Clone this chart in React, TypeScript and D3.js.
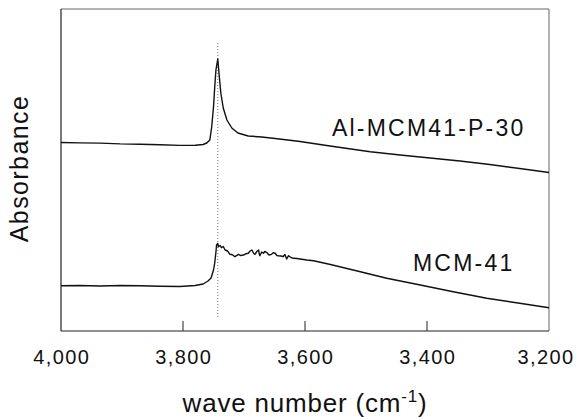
import React from "react";
import * as d3 from "d3";

// Wave numbers (cm-1) and absorbance (a.u.)
const alWave = [4000, 3969, 3936, 3903, 3870, 3838, 3805, 3780, 3767, 3761, 3756, 3753, 3750, 3748, 3746, 3743, 3741, 3738, 3734, 3728, 3720, 3710, 3693, 3671, 3649, 3608, 3559, 3493, 3444, 3395, 3346, 3297, 3248, 3200];
const alAbs = [1.885, 1.881, 1.879, 1.871, 1.868, 1.863, 1.856, 1.858, 1.865, 1.88, 1.91, 2.04, 2.24, 2.44, 2.61, 2.72, 2.58, 2.38, 2.23, 2.11, 2.03, 1.98, 1.95, 1.94, 1.925, 1.895, 1.85, 1.793, 1.76, 1.73, 1.70, 1.665, 1.625, 1.585];

const mcmWave = [4000, 3969, 3936, 3903, 3870, 3838, 3805, 3780, 3767, 3759, 3754, 3750, 3748, 3746, 3745, 3743, 3742, 3739, 3737, 3734, 3731, 3727, 3723, 3719, 3715, 3709, 3706, 3701, 3697, 3693, 3690, 3687, 3684, 3682, 3679, 3676, 3675, 3674, 3671, 3668, 3666, 3663, 3659, 3655, 3652, 3649, 3646, 3644, 3639, 3636, 3633, 3630, 3627, 3623, 3619, 3613, 3608, 3597, 3586, 3575, 3560, 3521, 3466, 3411, 3357, 3302, 3248, 3200];
const mcmAbs = [0.453, 0.455, 0.45, 0.455, 0.452, 0.448, 0.445, 0.455, 0.47, 0.5, 0.53, 0.61, 0.68, 0.79, 0.86, 0.875, 0.843, 0.855, 0.833, 0.845, 0.81, 0.8, 0.767, 0.762, 0.743, 0.767, 0.755, 0.76, 0.772, 0.777, 0.8, 0.81, 0.775, 0.767, 0.795, 0.81, 0.77, 0.753, 0.79, 0.777, 0.795, 0.787, 0.76, 0.767, 0.782, 0.777, 0.755, 0.753, 0.75, 0.743, 0.765, 0.72, 0.753, 0.735, 0.727, 0.725, 0.72, 0.71, 0.703, 0.687, 0.667, 0.61, 0.527, 0.46, 0.393, 0.327, 0.277, 0.233];

const xTicks = [4000, 3800, 3600, 3400, 3200];
const peakWave = 3743;
const seriesLabels = ["Al-MCM41-P-30", "MCM-41"];

const W = 576, H = 419;
const left = 61, right = 549, top = 9, bottom = 331;
const FONT = "'Liberation Sans', Arial, Helvetica, sans-serif";

export default function App() {
  const x = d3.scaleLinear().domain([4000, 3200]).range([left, right]);
  const y = d3.scaleLinear().domain([0, 3.22]).range([bottom, top]);
  const line = d3.line<[number, number]>().x(d => x(d[0])).y(d => y(d[1]));
  const al = alWave.map((w, i) => [w, alAbs[i]] as [number, number]);
  const mcm = mcmWave.map((w, i) => [w, mcmAbs[i]] as [number, number]);
  const fmt = d3.format(",");

  return (
    <svg width={W} height={H} style={{ position: "absolute", left: 0, top: 0, background: "#fff" }} fontFamily={FONT}>
      <rect x={0} y={0} width={W} height={H} fill="#fff" />
      {/* frame */}
      <line x1={left} x2={right} y1={top} y2={top} stroke="#666" strokeWidth={1} />
      <line x1={right} x2={right} y1={top} y2={bottom} stroke="#666" strokeWidth={1} />
      <line x1={left} x2={left} y1={top} y2={bottom} stroke="#222" strokeWidth={1.2} />
      <line x1={left} x2={right} y1={bottom} y2={bottom} stroke="#222" strokeWidth={1.2} />
      {xTicks.map((t, i) => (
        <g key={t}>
          {i !== 0 && i !== xTicks.length - 1 && (
            <line x1={x(t)} x2={x(t)} y1={bottom} y2={bottom - 10} stroke="#222" strokeWidth={1} />
          )}
          <text
            x={x(t) + (i === xTicks.length - 1 ? -3 : 0.8)}
            y={364}
            textAnchor="middle"
            fontSize={20}
            letterSpacing={1.4}
            fill="#111"
          >
            {fmt(t)}
          </text>
        </g>
      ))}
      {/* peak marker */}
      <line x1={x(peakWave)} x2={x(peakWave)} y1={43} y2={317} stroke="#777" strokeWidth={1} strokeDasharray="1,2" />
      {/* spectra */}
      <path d={line(al) || ""} fill="none" stroke="#111" strokeWidth={1.4} strokeLinejoin="round" />
      <path d={line(mcm) || ""} fill="none" stroke="#111" strokeWidth={1.4} strokeLinejoin="round" />
      {/* labels */}
      <text x={332} y={136} fontSize={23} letterSpacing={2.2} fill="#111">{seriesLabels[0]}</text>
      <text x={413} y={270.5} fontSize={23} letterSpacing={2.2} fill="#111">{seriesLabels[1]}</text>
      {/* axis titles */}
      <text x={305} y={412} textAnchor="middle" fontSize={26} letterSpacing={0.8} fill="#111">
        wave number (cm<tspan dy={-10} fontSize={17}>-1</tspan><tspan dy={10}>)</tspan>
      </text>
      <text transform="translate(28,168.5) rotate(-90)" textAnchor="middle" fontSize={25} letterSpacing={1.4} fill="#111">
        Absorbance
      </text>
    </svg>
  );
}
